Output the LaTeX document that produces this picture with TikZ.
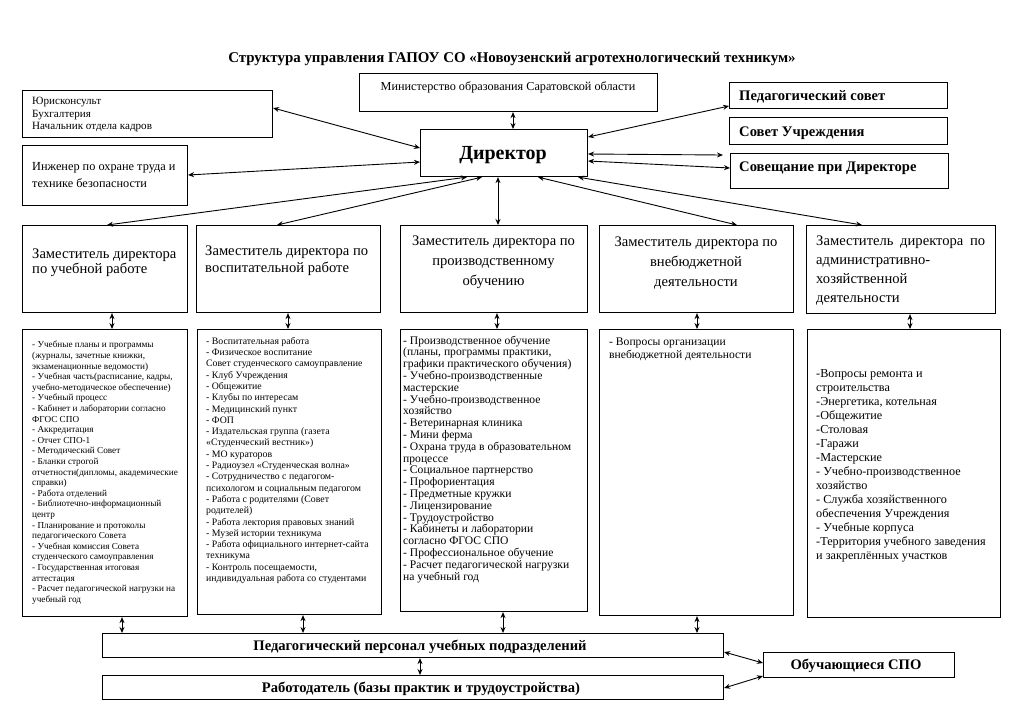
\documentclass[tikz,border=0pt]{standalone}
\usepackage{fontspec}
\setmainfont{Liberation Serif}
\usetikzlibrary{arrows.meta}
\newcommand{\fs}[2]{\fontsize{#1}{#2}\selectfont}
\begin{document}
\begin{tikzpicture}[x=1pt,y=-1pt,
  bx/.style 2 args={draw, line width=1.1pt, inner sep=0pt, anchor=north west, minimum width=#1pt, minimum height=#2pt},
  arr/.style={{Stealth[length=6pt,width=5pt]}-{Stealth[length=6pt,width=5pt]}, line width=0.9pt},
  txt/.style={inner sep=0pt, anchor=north west, align=left},
  ctxt/.style={inner sep=0pt, anchor=north, align=center},
  btxt/.style={inner sep=0pt, anchor=base west, font=\fs{14.6}{16}\bfseries},
  ]
\useasboundingbox[fill=white] (0,0) rectangle (1024,724);

% title
\node[inner sep=0pt, anchor=base, font=\fs{14.9}{16}\bfseries] (title) at (512,62)
  {Структура управления ГАПОУ СО «Новоузенский агротехнологический техникум»};

% top boxes
\node[bx={250}{47}] (jur) at (22,90) {};
\node[txt, font=\fs{11.1}{12.5}] (jurt) at (32,97) {Юрисконсульт\\Бухгалтерия\\Начальник отдела кадров};
\node[bx={165}{60}] (eng) at (22,145) {};
\node[txt, font=\fs{12.3}{17}] (engt) at (32,162) {Инженер по охране труда и\\технике безопасности};
\node[bx={298}{38}] (min) at (359,73) {};
\node[inner sep=0pt, anchor=base, font=\fs{12.2}{14}] (mint) at (508,90.5) {Министерство образования Саратовской области};
\node[bx={167}{47}] (dir) at (420,129) {};
\node[inner sep=0pt, anchor=base, font=\fs{20}{24}\bfseries] (dirt) at (503,159.5) {Директор};
\node[bx={218}{26}] (ped) at (729,82) {};
\node[btxt] (pedt) at (739,100.5) {Педагогический совет};
\node[bx={218}{27}] (sov) at (729,117) {};
\node[btxt] (sovt) at (739,136.5) {Совет Учреждения};
\node[bx={218}{35}] (ses) at (730,153) {};
\node[btxt] (sest) at (739,171.5) {Совещание при Директоре};

% deputies
\node[bx={165}{87}] (dep1) at (22,225) {};
\node[txt, font=\fs{14.6}{15.5}] (dep1t) at (32,248.5) {Заместитель директора\\по учебной работе};
\node[bx={184}{87}] (dep2) at (196,225) {};
\node[txt, font=\fs{14.6}{17}] (dep2t) at (205,245.5) {Заместитель директора по\\воспитательной работе};
\node[bx={187}{87}] (dep3) at (400,225) {};
\node[ctxt, font=\fs{14.6}{20}] (dep3t) at (493.5,236) {Заместитель директора по\\производственному\\обучению};
\node[bx={194}{87}] (dep4) at (599,225) {};
\node[ctxt, font=\fs{14.6}{20}] (dep4t) at (696,237) {Заместитель директора по\\внебюджетной\\деятельности};
\node[bx={189}{88}] (dep5) at (806,225) {};
\node[txt, font=\fs{14.6}{19}] (dep5t) at (816,236) {\makebox[169pt][s]{Заместитель директора по}\\административно-\\хозяйственной\\деятельности};

% content boxes
\node[bx={165}{287}] (c1) at (22,329) {};
\node[txt, font=\fs{9.2}{10.6}] (c1t) at (32,341) {- Учебные планы и программы\\(журналы, зачетные книжки,\\экзаменационные ведомости)\\- Учебная часть(расписание, кадры,\\учебно-методическое обеспечение)\\- Учебный процесс\\- Кабинет и лаборатории согласно\\ФГОС СПО\\- Аккредитация\\- Отчет СПО-1\\- Методический Совет\\- Бланки строгой\\отчетности(дипломы, академические\\справки)\\- Работа отделений\\- Библиотечно-информационный\\центр\\- Планирование и протоколы\\педагогического Совета\\- Учебная комиссия Совета\\студенческого самоуправления\\- Государственная итоговая\\аттестация\\- Расчет педагогической нагрузки на\\учебный год};
\node[bx={184}{285}] (c2) at (197,329) {};
\node[txt, font=\fs{9.8}{11.3}] (c2t) at (206,337) {- Воспитательная работа\\- Физическое воспитание\\Совет студенческого самоуправление\\- Клуб Учреждения\\- Общежитие\\- Клубы по интересам\\- Медицинский пункт\\- ФОП\\- Издательская группа (газета\\«Студенческий вестник»)\\- МО кураторов\\- Радиоузел «Студенческая волна»\\- Сотрудничество с педагогом-\\психологом и социальным педагогом\\- Работа с родителями (Совет\\родителей)\\- Работа лектория правовых знаний\\- Музей истории техникума\\- Работа официального интернет-сайта\\техникума\\- Контроль посещаемости,\\индивидуальная работа со студентами};
\node[bx={187}{282}] (c3) at (400,329) {};
\node[txt, font=\fs{11.6}{11.8}] (c3t) at (403,335.5) {- Производственное обучение\\(планы, программы практики,\\графики практического обучения)\\- Учебно-производственные\\мастерские\\- Учебно-производственное\\хозяйство\\- Ветеринарная клиника\\- Мини ферма\\- Охрана труда в образовательном\\процессе\\- Социальное партнерство\\- Профориентация\\- Предметные кружки\\- Лицензирование\\- Трудоустройство\\- Кабинеты и лаборатории\\согласно ФГОС СПО\\- Профессиональное обучение\\- Расчет педагогической нагрузки\\на учебный год};
\node[bx={194}{286}] (c4) at (599,329) {};
\node[txt, font=\fs{11.6}{13}] (c4t) at (609,337.5) {- Вопросы организации\\внебюджетной деятельности};
\node[bx={193}{288}] (c5) at (807,329) {};
\node[txt, font=\fs{12.2}{14}] (c5t) at (816,369) {-Вопросы ремонта и\\строительства\\-Энергетика, котельная\\-Общежитие\\-Столовая\\-Гаражи\\-Мастерские\\- Учебно-производственное\\хозяйство\\- Служба хозяйственного\\обеспечения Учреждения\\- Учебные корпуса\\-Территория учебного заведения\\и закреплённых участков};

% bottom
\node[bx={621}{24}] (pers) at (102,633) {};
\node[inner sep=0pt, anchor=base, font=\fs{14.6}{16}\bfseries] (perst) at (420,650) {Педагогический персонал учебных подразделений};
\node[bx={621}{24}] (rab) at (102,675) {};
\node[inner sep=0pt, anchor=base, font=\fs{14.6}{16}\bfseries] (rabt) at (421,692.5) {Работодатель (базы практик и трудоустройства)};
\node[bx={191}{25}] (obu) at (763,652) {};
\node[inner sep=0pt, anchor=base, font=\fs{14.6}{16}\bfseries] (obut) at (856,669.5) {Обучающиеся СПО};

% connectors around director
\draw[arr] ([xshift=154pt]min.south west) -- ([xshift=93pt]dir.north west);
\draw[arr] ([yshift=-18pt]jur.north east) -- ([yshift=-19pt]dir.north west);
\draw[arr] ([yshift=-30pt]eng.north east) -- ([yshift=-33pt]dir.north west);
\draw[arr] ([xshift=47pt]dir.south west) -- ([xshift=85pt]dep1.north west);
\draw[arr] ([xshift=62pt]dir.south west) -- ([xshift=81pt]dep2.north west);
\draw[arr] ([xshift=78pt]dir.south west) -- ([xshift=98pt]dep3.north west);
\draw[arr] ([xshift=118pt]dir.south west) -- ([xshift=138pt]dep4.north west);
\draw[arr] ([xshift=158pt]dir.south west) -- ([xshift=56pt]dep5.north west);
\draw[arr] ([yshift=-8pt]dir.north east) -- ([yshift=-24pt]ped.north west);
\draw[arr] ([yshift=-25pt]dir.north east) -- ([xshift=-7pt,yshift=-2pt]ses.north west);
\draw[arr] ([yshift=-32pt]dir.north east) -- ([yshift=-15pt]ses.north west);

% deputies to content
\draw[arr] ([xshift=90pt]dep1.south west) -- ([xshift=90pt]c1.north west);
\draw[arr] ([xshift=92pt]dep2.south west) -- ([xshift=91pt]c2.north west);
\draw[arr] ([xshift=97pt]dep3.south west) -- ([xshift=97pt]c3.north west);
\draw[arr] ([xshift=98pt]dep4.south west) -- ([xshift=98pt]c4.north west);
\draw[arr] ([xshift=104pt]dep5.south west) -- ([xshift=103pt]c5.north west);

% content to staff
\draw[arr] ([xshift=100pt]c1.south west) -- ([xshift=20pt]pers.north west);
\draw[arr] ([xshift=106pt]c2.south west) -- ([xshift=201pt]pers.north west);
\draw[arr] ([xshift=103pt]c3.south west) -- ([xshift=401pt]pers.north west);
\draw[arr] ([xshift=98pt]c4.south west) -- ([xshift=595pt]pers.north west);

% bottom links
\draw[arr] ([xshift=318pt]pers.south west) -- ([xshift=318pt]rab.north west);
\draw[arr] ([yshift=-19pt]pers.north east) -- ([yshift=-11pt]obu.north west);
\draw[arr] ([yshift=-13pt]rab.north east) -- ([yshift=-24pt]obu.north west);
\end{tikzpicture}
\end{document}
